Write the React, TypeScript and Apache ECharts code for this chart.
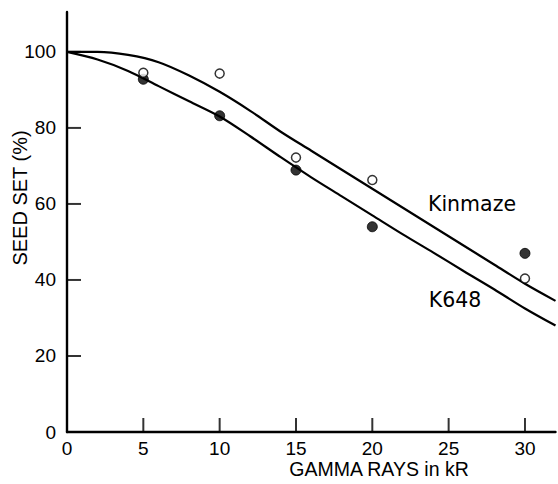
import React, { useEffect, useRef } from "react";
import * as echarts from "echarts";

const doseObs = [5, 10, 15, 20, 30];
const kinmazeObs = [94.5, 94.3, 72.2, 66.3, 40.4];
const k648Obs = [92.8, 83.2, 68.9, 54.0, 47.0];

const curveDose = [0, 2, 4, 6, 8, 10, 12, 14, 16, 18, 20, 22, 24, 26, 28, 30, 32];
const kinmazeCurve = [100, 100, 99.2, 97.3, 93.8, 89.5, 84.5, 79, 74, 69, 64, 59, 54, 49, 44, 39.0, 34.5];
const k648Curve = [100, 98, 95, 91, 87, 83, 77.8, 72.3, 67, 62, 57, 52, 47.2, 42.3, 37.5, 32.5, 28];

const xTicks = [5, 10, 15, 20, 25, 30];
const yTicks = [20, 40, 60, 80, 100];

// axis ranges and tick steps
const xAxisMax = 32;
const xTickMax = 30;
const xStep = 5;
const yAxisMax = 110.5;
const yTickMax = 100;
const yStep = 20;

const FONT = "Liberation Sans";
const W = 558;
const H = 484;
const LEFT = 67;
const RIGHT = 2.5;
const TOP = 12;
const BOTTOM = 52;
const TICK_LEN = 14;

export default function App() {
  const ref = useRef<HTMLDivElement>(null);
  useEffect(() => {
    if (!ref.current) return;
    const chart = echarts.init(ref.current, null, { renderer: "svg" });
    const zip = (xs: number[], ys: number[]) => xs.map((x, i) => [x, ys[i]]);
    const plotW = W - LEFT - RIGHT;
    const plotH = H - TOP - BOTTOM;
    const right2 = W - LEFT - (plotW * xTickMax) / xAxisMax;
    const top2 = H - BOTTOM - (plotH * yTickMax) / yAxisMax;
    const labelStyle = { color: "#000", fontSize: 19, fontFamily: FONT };
    chart.setOption({
      animation: false,
      grid: [
        { left: LEFT, right: RIGHT, top: TOP, bottom: BOTTOM },
        { left: LEFT, right: right2, top: top2, bottom: BOTTOM },
      ],
      xAxis: [
        {
          type: "value",
          gridIndex: 0,
          min: 0,
          max: xAxisMax,
          splitLine: { show: false },
          axisLine: { show: true, lineStyle: { color: "#000", width: 2.4 } },
          axisTick: { show: false },
          axisLabel: { show: false },
        },
        {
          type: "value",
          gridIndex: 1,
          min: 0,
          max: xTickMax,
          interval: xStep,
          splitLine: { show: false },
          axisLine: { show: false },
          axisTick: { show: false },
          axisLabel: { ...labelStyle, margin: 7 },
        },
      ],
      yAxis: [
        {
          type: "value",
          gridIndex: 0,
          min: 0,
          max: yAxisMax,
          splitLine: { show: false },
          axisLine: { show: true, lineStyle: { color: "#000", width: 2.4 } },
          axisTick: { show: false },
          axisLabel: { show: false },
        },
        {
          type: "value",
          gridIndex: 1,
          min: 0,
          max: yTickMax,
          interval: yStep,
          splitLine: { show: false },
          axisLine: { show: false },
          axisTick: { show: false },
          axisLabel: { ...labelStyle, margin: 11 },
        },
      ],
      series: [
        {
          type: "scatter",
          xAxisIndex: 0,
          yAxisIndex: 0,
          clip: false,
          silent: true,
          data: xTicks.map((v) => [v, 0]),
          symbol: "rect",
          symbolSize: [2, TICK_LEN],
          symbolOffset: [0, -TICK_LEN / 2],
          itemStyle: { color: "#000" },
          z: 1,
        },
        {
          type: "scatter",
          xAxisIndex: 0,
          yAxisIndex: 0,
          clip: false,
          silent: true,
          data: yTicks.map((v) => [0, v]),
          symbol: "rect",
          symbolSize: [TICK_LEN, 2],
          symbolOffset: [TICK_LEN / 2, 0],
          itemStyle: { color: "#000" },
          z: 1,
        },
        {
          type: "line",
          data: zip(curveDose, kinmazeCurve),
          smooth: 0.3,
          showSymbol: false,
          lineStyle: { color: "#000", width: 2.2 },
        },
        {
          type: "line",
          data: zip(curveDose, k648Curve),
          smooth: 0.3,
          showSymbol: false,
          lineStyle: { color: "#000", width: 2.2 },
        },
        {
          type: "scatter",
          data: zip(doseObs, k648Obs),
          symbol: "circle",
          symbolSize: 10,
          itemStyle: { color: "#000", borderColor: "#000", borderWidth: 1 },
          z: 3,
        },
        {
          type: "scatter",
          data: zip(doseObs, kinmazeObs),
          symbol: "circle",
          symbolSize: 9,
          itemStyle: { color: "#fff", borderColor: "#000", borderWidth: 1.5 },
          z: 4,
        },
      ],
      graphic: [
        {
          type: "text",
          x: 379,
          y: 469,
          style: { text: "GAMMA RAYS in kR", fill: "#000", fontSize: 19.5, fontFamily: FONT, align: "center", verticalAlign: "middle" },
        },
        {
          type: "text",
          x: 20,
          y: 198,
          rotation: Math.PI / 2,
          style: { text: "SEED SET (%)", fill: "#000", fontSize: 20, fontFamily: FONT, align: "center", verticalAlign: "middle" },
        },
        {
          type: "text",
          x: 472,
          y: 204,
          style: { text: "Kinmaze", fill: "#000", fontSize: 20.5, fontFamily: "DejaVu Sans", align: "center", verticalAlign: "middle" },
        },
        {
          type: "text",
          x: 455,
          y: 300,
          style: { text: "K648", fill: "#000", fontSize: 20.5, fontFamily: "DejaVu Sans", align: "center", verticalAlign: "middle" },
        },
      ],
    });
    return () => chart.dispose();
  }, []);
  return <div ref={ref} style={{ position: "absolute", left: 0, top: 0, width: W, height: H }} />;
}
